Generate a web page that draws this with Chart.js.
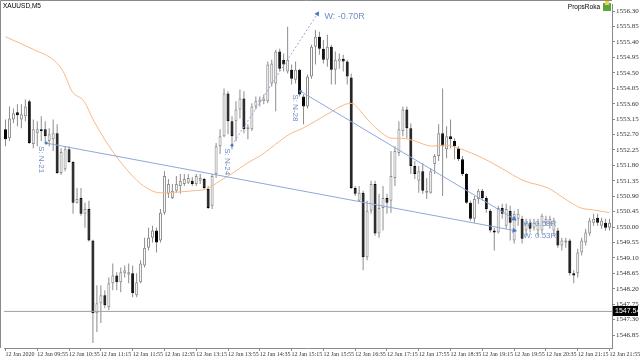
<!DOCTYPE html>
<html>
<head>
<meta charset="utf-8">
<script src="https://cdn.jsdelivr.net/npm/chart.js@4.4.1/dist/chart.umd.min.js"></script>
<style>
  html, body { margin: 0; padding: 0; background: #ffffff; }
  canvas { display: block; }
</style>
</head>
<body>
<canvas id="chart" width="640" height="360"></canvas>
<script>
// =============================================
// DATA  (XAUUSD M5, 12 Jan 09:15 .. 21:55, one entry per candle)
// =============================================
const opens = [
  1552.85,1552.59,1553.14,1553.35,1553.14,1553.23,1553.67,1552.42,1552.74,1552.85,
  1552.85,1552.51,1552.56,1552.74,1551.58,1551.69,1552.27,1551.90,1550.71,1550.85,
  1550.39,1550.53,1549.61,1547.49,1547.78,1548.01,1547.66,1548.36,1548.59,1548.39,
  1548.65,1548.62,1548.65,1548.01,1548.39,1548.88,1549.40,1549.69,1549.90,1549.61,
  1550.42,1550.97,1550.85,1551.06,1551.20,1551.26,1551.29,1551.35,1551.26,1551.35,
  1551.40,1551.11,1550.62,1551.55,1552.36,1552.65,1553.90,1553.09,1553.09,1553.43,
  1553.75,1552.85,1552.85,1553.52,1553.64,1553.67,1553.67,1554.19,1554.19,1555.12,
  1554.88,1554.54,1554.59,1554.30,1554.59,1553.81,1553.52,1554.39,1555.26,1555.55,
  1555.20,1554.88,1555.26,1554.59,1554.83,1554.91,1554.83,1554.36,1551.14,1550.77,
  1551.00,1549.12,1550.48,1551.26,1549.81,1550.56,1550.85,1550.77,1551.43,1552.16,
  1552.80,1553.43,1552.88,1551.78,1551.35,1551.63,1551.00,1551.00,1551.84,1552.07,
  1552.74,1552.27,1552.65,1552.51,1552.30,1551.98,1551.55,1550.71,1550.24,1550.82,
  1551.06,1550.85,1550.48,1549.90,1549.84,1550.56,1550.04,1550.48,1549.61,1550.24,
  1550.24,1549.90,1550.13,1549.98,1549.90,1549.90,1550.13,1550.10,1549.90,1549.90,
  1549.46,1549.55,1549.61,1548.65,1548.65,1549.26,1549.55,1549.81,1550.13,1550.27,
  1550.04,1550.13,1549.98
];
const highs = [
  1553.14,1553.52,1553.46,1553.58,1553.58,1553.72,1553.72,1553.14,1553.09,1553.23,
  1553.09,1552.88,1553.14,1553.00,1552.30,1552.36,1552.36,1551.93,1551.14,1551.14,
  1550.71,1550.77,1549.63,1548.30,1548.30,1548.16,1548.53,1548.94,1548.68,1548.82,
  1548.88,1548.94,1548.88,1548.65,1549.03,1549.69,1549.98,1550.04,1549.98,1550.53,
  1551.63,1551.40,1551.26,1551.49,1551.55,1551.55,1551.55,1551.46,1551.55,1551.55,
  1551.43,1551.20,1551.55,1552.45,1552.85,1554.04,1553.96,1553.23,1553.67,1554.01,
  1553.96,1553.00,1553.61,1553.81,1553.81,1553.87,1554.83,1554.88,1555.17,1555.20,
  1555.06,1555.84,1554.74,1554.83,1554.62,1553.87,1554.45,1555.32,1555.75,1555.70,
  1555.46,1555.61,1555.32,1555.12,1555.06,1555.03,1554.88,1554.48,1551.20,1551.20,
  1551.06,1550.77,1551.35,1551.35,1550.97,1551.20,1550.97,1552.22,1552.36,1553.09,
  1553.52,1553.52,1553.03,1551.93,1551.78,1551.87,1551.43,1551.72,1552.13,1553.00,
  1554.04,1552.94,1553.14,1552.59,1552.36,1552.07,1551.58,1550.77,1550.91,1551.11,
  1551.11,1550.91,1550.53,1549.98,1550.62,1550.68,1550.68,1550.62,1550.48,1550.53,
  1550.33,1550.24,1550.24,1550.24,1550.24,1550.39,1550.33,1550.33,1550.27,1549.98,
  1549.69,1549.69,1549.66,1548.74,1549.37,1549.69,1549.95,1550.27,1550.39,1550.39,
  1550.27,1550.24,1550.24
];
const lows = [
  1552.36,1552.51,1553.03,1552.94,1552.88,1553.09,1552.42,1552.30,1552.36,1552.51,
  1552.42,1552.36,1552.22,1551.55,1551.52,1551.63,1551.87,1550.39,1550.68,1550.33,
  1549.98,1549.58,1546.62,1546.94,1547.20,1547.63,1547.58,1548.16,1548.16,1548.10,
  1548.53,1548.36,1547.95,1547.95,1548.36,1548.82,1549.32,1549.55,1549.26,1549.55,
  1550.36,1550.85,1550.82,1551.00,1550.97,1551.20,1551.26,1551.20,1551.20,1551.26,
  1551.11,1550.53,1550.53,1551.43,1552.13,1552.62,1552.71,1552.27,1552.51,1553.17,
  1552.74,1552.56,1552.80,1553.43,1553.52,1553.58,1553.61,1554.10,1553.38,1554.54,
  1554.54,1554.48,1554.16,1554.19,1553.81,1553.00,1553.46,1554.33,1554.74,1555.03,
  1554.77,1554.68,1554.16,1554.16,1554.62,1554.54,1554.16,1551.11,1550.91,1550.74,
  1548.74,1549.03,1550.39,1549.75,1549.69,1549.90,1550.39,1550.42,1551.20,1552.07,
  1552.65,1552.59,1551.55,1551.40,1551.00,1550.97,1550.82,1550.97,1551.55,1551.93,
  1550.91,1552.01,1552.30,1551.98,1551.93,1551.49,1550.68,1550.19,1550.13,1550.68,
  1550.77,1550.42,1549.84,1549.32,1549.81,1550.24,1549.95,1549.61,1549.52,1550.04,
  1549.52,1549.75,1549.84,1549.90,1549.75,1549.81,1550.04,1549.95,1549.75,1549.40,
  1549.32,1549.40,1548.59,1548.36,1548.53,1549.17,1549.46,1549.75,1550.04,1550.04,
  1549.95,1549.90,1549.90
];
const closes = [
  1552.56,1553.17,1553.32,1553.26,1553.29,1553.52,1552.45,1552.85,1552.85,1552.80,
  1552.65,1552.71,1552.74,1551.58,1552.19,1552.27,1551.90,1550.71,1550.82,1550.39,
  1550.53,1549.61,1547.49,1547.78,1548.01,1547.72,1548.36,1548.59,1548.39,1548.68,
  1548.74,1548.68,1548.07,1548.39,1548.94,1549.40,1549.69,1549.90,1549.55,1550.42,
  1551.49,1551.26,1551.06,1551.26,1551.35,1551.40,1551.43,1551.26,1551.49,1551.43,
  1551.14,1550.56,1551.49,1552.36,1552.65,1553.90,1553.09,1552.65,1553.43,1553.75,
  1552.85,1552.91,1553.52,1553.67,1553.72,1553.75,1554.74,1554.77,1555.12,1554.62,
  1554.74,1554.88,1554.33,1554.59,1553.87,1553.52,1554.39,1555.26,1555.55,1555.20,
  1554.88,1555.26,1554.59,1554.88,1554.91,1554.83,1554.39,1551.14,1550.97,1551.00,
  1549.12,1550.48,1551.26,1549.81,1550.56,1550.85,1550.71,1551.49,1552.22,1552.85,
  1553.43,1552.88,1551.78,1551.55,1551.63,1551.06,1551.06,1551.63,1552.07,1552.74,
  1552.36,1552.65,1552.56,1552.36,1551.98,1551.55,1550.71,1550.24,1550.82,1551.06,
  1550.85,1550.53,1549.90,1549.84,1550.56,1550.39,1550.53,1550.13,1550.39,1550.39,
  1549.66,1550.13,1549.95,1550.13,1550.13,1550.33,1550.24,1550.24,1550.19,1549.46,
  1549.61,1549.61,1548.65,1548.59,1549.26,1549.61,1549.84,1550.19,1550.24,1550.13,
  1550.19,1549.98,1550.13
];

// moving average (orange), read at candle positions
const maIdx = [0, 7.25, 12.25, 14.5, 16.75, 19.75, 22.25, 27.25, 31.5, 34.75, 39, 47.25, 50.5, 54,
  57.25, 60.5, 64.75, 68, 71.5, 74.75, 78, 82.25, 85.5, 87.25, 89, 91.5, 94.75, 97.25, 99.75,
  103, 107.25, 110.5, 114, 117.25, 121.5, 124.75, 130.5, 136.5, 141.5, 144.75, 148, 152];
const maVal = [1555.55, 1555.17, 1554.86, 1554.54, 1553.96, 1553.67, 1553.09, 1552.16, 1551.55, 1551.20,
  1551.00, 1551.06, 1551.11, 1551.35, 1551.58, 1551.84, 1552.13, 1552.42, 1552.71, 1552.88, 1553.09,
  1553.38, 1553.58, 1553.61, 1553.43, 1553.09, 1552.74, 1552.59, 1552.59, 1552.51, 1552.36, 1552.39,
  1552.30, 1552.16, 1551.93, 1551.72, 1551.35, 1551.14, 1550.77, 1550.56, 1550.50, 1550.42];

// trade lines: [start idx, start price, end idx, end price]
const tradeN21 = [10.25, 1552.45, 128, 1549.90];
const tradeN24 = [57, 1552.39, 78.5, 1556.22];
const tradeN28 = [74.25, 1553.96, 128, 1550.24];
const tradeTags = ['S: N-21', 'S: N-24', 'S: N-28'];
const tradeResults = ['W: 0.53R', 'W: -0.70R', 'W: 0.58R'];

const currentPrice = 1547.54;

// axes
const timeIdx = [0, 8, 16, 24, 32, 40, 48, 56, 64, 72, 80, 88, 96, 104, 112, 120, 128, 136, 144, 152];
const timeLabels = ['12 Jan 2020', '12 Jan 09:55', '12 Jan 10:35', '12 Jan 11:15', '12 Jan 11:55',
  '12 Jan 12:35', '12 Jan 13:15', '12 Jan 13:55', '12 Jan 14:35', '12 Jan 15:15', '12 Jan 15:55',
  '12 Jan 16:35', '12 Jan 17:15', '12 Jan 17:55', '12 Jan 18:35', '12 Jan 19:15', '12 Jan 19:55',
  '12 Jan 20:35', '12 Jan 21:15', '12 Jan 21:55'];
const priceTicks = [1546.85, 1547.30, 1547.75, 1548.20, 1548.65, 1549.10, 1549.55, 1550.00, 1550.45,
  1550.90, 1551.35, 1551.80, 1552.25, 1552.70, 1553.15, 1553.60, 1554.05, 1554.50, 1554.95, 1555.40,
  1555.85, 1556.30];

// =============================================
// BUILD DATASETS
// =============================================
const GRAY = '#8c8c8c';
const BLUE = '#8ea8d8';
const FONT = '"Liberation Sans Narrow", "Liberation Sans", sans-serif';
const FONT_NAME = 'Liberation Sans Narrow';

const wicks = lows.map((l, i) => ({ x: i, y: [l, highs[i]] }));
const bodies = opens.map((o, i) => ({ x: i, y: [o, closes[i]] }));
const bull = opens.map((o, i) => closes[i] >= o);

function tradeLine(t, rot) {
    return {
        type: 'line',
        data: [{ x: t[0], y: t[1] }, { x: t[2], y: t[3] }],
        borderColor: BLUE,
        borderWidth: 1,
        pointStyle: ['circle', 'triangle'],
        pointRadius: [1.5, 3],
        pointRotation: [0, rot],
        pointBackgroundColor: '#4f78c4',
        pointBorderWidth: 0,
        order: 0
    };
}

const lineN24 = tradeLine(tradeN24, 33);
lineN24.borderDash = [2, 2];

const annotate = {
    id: 'annotate',
    afterDatasetsDraw(chart) {
        const { ctx, chartArea: a, scales: { x, y } } = chart;
        ctx.save();

        // frame (left / top)
        ctx.strokeStyle = '#8a8a8a';
        ctx.lineWidth = 1;
        ctx.beginPath();
        ctx.moveTo(0.5, a.bottom);
        ctx.lineTo(0.5, 0.5);
        ctx.lineTo(a.right, 0.5);
        ctx.stroke();

        // trade tags (rotated) and results
        ctx.fillStyle = '#6f8fc8';
        ctx.textBaseline = 'middle';
        [tradeN21, tradeN24, tradeN28].forEach((t, k) => {
            const sx = x.getPixelForValue(t[0]);
            const sy = y.getPixelForValue(t[1]);
            ctx.save();
            ctx.translate(sx - 5, sy + 3);
            ctx.rotate(Math.PI / 2);
            ctx.font = '8px "Liberation Sans"';
            ctx.textAlign = 'left';
            ctx.fillText(tradeTags[k], 0, 0);
            ctx.restore();

            const ex = x.getPixelForValue(t[2]);
            const ey = y.getPixelForValue(t[3]);
            ctx.font = (k === 1 ? '9px' : '8px') + ' "Liberation Sans"';
            ctx.textAlign = 'left';
            ctx.fillText(tradeResults[k], ex + (k === 1 ? 7 : 9), ey + (k === 1 ? 3 : 5));
        });

        // current price box
        const py = Math.round(y.getPixelForValue(currentPrice));
        ctx.fillStyle = '#000000';
        ctx.fillRect(a.right + 1, py - 5, 25, 10);
        ctx.fillStyle = '#ffffff';
        ctx.font = '7px ' + FONT;
        ctx.textAlign = 'left';
        ctx.fillText(currentPrice.toFixed(2), a.right + 3, py + 0.5);

        // header texts
        ctx.fillStyle = '#000000';
        ctx.textBaseline = 'top';
        ctx.font = '6.5px ' + FONT;
        ctx.fillText('XAUUSD,M5', 3, 3);
        ctx.textAlign = 'right';
        ctx.fillText('PropsRoka', 600, 4);
        ctx.fillStyle = '#5aa83c';
        ctx.fillRect(603, 3, 8, 8);
        ctx.fillStyle = '#f2d24a';
        ctx.fillRect(605, 1, 4, 4);

        ctx.restore();
    }
};

new Chart(document.getElementById('chart'), {
    data: {
        datasets: [
            tradeLine(tradeN21, 100),
            lineN24,
            tradeLine(tradeN28, 121),
            {
                type: 'line',
                data: maIdx.map((v, i) => ({ x: v, y: maVal[i] })),
                borderColor: '#f8b888',
                borderWidth: 1,
                pointRadius: 0,
                cubicInterpolationMode: 'monotone',
                order: 1
            },
            {
                type: 'line',
                data: [{ x: -0.375, y: currentPrice }, { x: 152.625, y: currentPrice }],
                borderColor: '#a0a0a0',
                borderWidth: 1,
                pointRadius: 0,
                order: 1
            },
            {
                type: 'bar',
                data: bodies,
                backgroundColor: bull.map(b => b ? '#ffffff' : '#000000'),
                borderColor: bull.map(b => b ? GRAY : '#000000'),
                borderWidth: 1,
                borderSkipped: false,
                barThickness: 3,
                minBarLength: 1,
                inflateAmount: 0,
                grouped: false,
                order: 2
            },
            {
                type: 'bar',
                data: wicks,
                backgroundColor: GRAY,
                borderWidth: 0,
                barThickness: 1,
                inflateAmount: 0,
                grouped: false,
                order: 3
            }
        ]
    },
    options: {
        responsive: false,
        animation: false,
        devicePixelRatio: 1,
        layout: { padding: { top: 2, left: 0, right: 0, bottom: 0 } },
        plugins: {
            legend: { display: false },
            tooltip: { enabled: false }
        },
        scales: {
            x: {
                type: 'linear',
                offset: false,
                min: -0.375,
                max: 152.625,
                afterBuildTicks: s => { s.ticks = timeIdx.map(v => ({ value: v })); },
                afterFit: s => { s.height = 12; s.paddingLeft = 0; s.paddingRight = 0; },
                border: { display: true, color: '#8a8a8a' },
                grid: { offset: false, drawOnChartArea: false, tickLength: 3, color: '#8a8a8a' },
                ticks: {
                    autoSkip: false,
                    maxRotation: 0,
                    align: 'start',
                    padding: 0,
                    color: '#333333',
                    font: { family: FONT_NAME, size: 6 },
                    callback: v => timeLabels[timeIdx.indexOf(v)]
                }
            },
            y: {
                position: 'right',
                min: 1546.473,
                max: 1556.507,
                afterBuildTicks: s => { s.ticks = priceTicks.map(v => ({ value: v })); },
                afterFit: s => { s.width = 28; s.paddingTop = 0; s.paddingBottom = 0; },
                border: { display: true, color: '#8a8a8a' },
                grid: { drawOnChartArea: false, tickLength: 3, color: '#8a8a8a' },
                ticks: {
                    padding: 1,
                    color: '#333333',
                    font: { family: FONT_NAME, size: 7 },
                    callback: v => v.toFixed(2)
                }
            }
        }
    },
    plugins: [annotate]
});
</script>
</body>
</html>
